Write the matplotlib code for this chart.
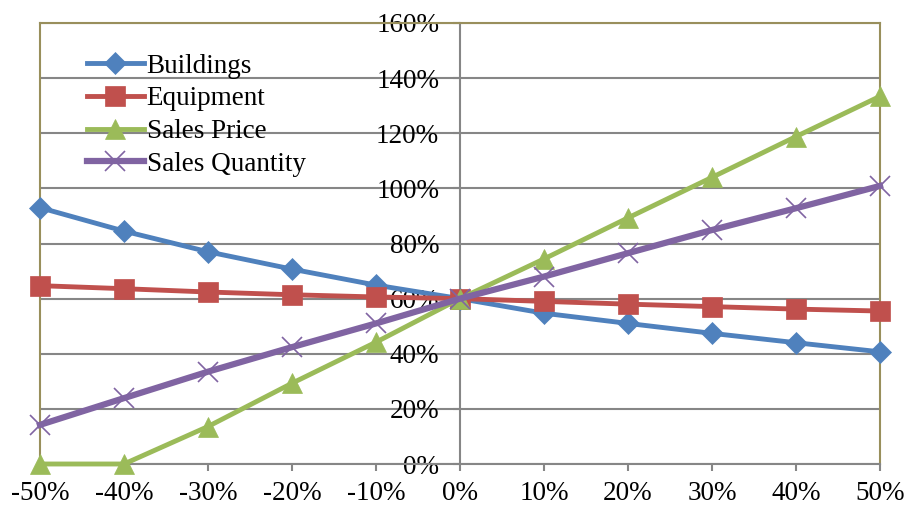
import numpy as np
import matplotlib.pyplot as plt
from matplotlib.ticker import FuncFormatter

plt.rcParams['font.family'] = ['Liberation Serif', 'DejaVu Serif']

# change in input (x) and result as share (y)
changes = [-0.5, -0.4, -0.3, -0.2, -0.1, 0.0, 0.1, 0.2, 0.3, 0.4, 0.5]
buildings = [0.93, 0.845, 0.77, 0.707, 0.649, 0.60, 0.547, 0.51, 0.474, 0.44, 0.407]
equipment = [0.647, 0.636, 0.624, 0.614, 0.606, 0.60, 0.59, 0.58, 0.571, 0.562, 0.555]
sales_price = [0.0, 0.0, 0.136, 0.293, 0.442, 0.60, 0.744, 0.893, 1.04, 1.188, 1.334]
sales_qty = [0.142, 0.239, 0.335, 0.424, 0.51, 0.60, 0.68, 0.765, 0.849, 0.928, 1.009]

series = [
    ("Buildings", buildings, "#4F81BD", "D", 11, 3.5),
    ("Equipment", equipment, "#C0504D", "s", 14, 3.5),
    ("Sales Price", sales_price, "#9BBB59", "^", 14, 3.5),
    ("Sales Quantity", sales_qty, "#8064A2", "x", 14, 4.5),
]

fig = plt.figure(figsize=(9.06, 5.07), dpi=100)
ax = fig.add_axes([40 / 906, 1 - 464 / 507, 840 / 906, 441 / 507])

for name, vals, col, mk, ms, lw in series:
    ax.plot(changes, vals, color=col, lw=lw, marker=mk, markersize=ms,
            markeredgewidth=1.2 if mk == "x" else 0.5, markeredgecolor=col,
            label=name, clip_on=False, zorder=3)

ax.set_xlim(-0.5, 0.5)
ax.set_ylim(0, 1.6)
ax.set_xticks(changes)
ax.set_yticks(np.arange(0, 1.61, 0.2))
pct = FuncFormatter(lambda v, p: f"{v:.0%}")
ax.xaxis.set_major_formatter(pct)
ax.yaxis.set_major_formatter(pct)

grey = "#868686"
frame = "#998f5c"
ax.grid(axis="y", color=grey, lw=1.5, zorder=1)
ax.tick_params(axis="both", direction="out", length=5, width=1.5, color=grey,
               labelsize=19.5)
ax.tick_params(axis="x", pad=7)
ax.tick_params(axis="y", pad=10)

# value axis crosses at 0%
ax.spines["left"].set_position(("data", 0))
ax.spines["left"].set_color(grey)
ax.spines["left"].set_linewidth(1.5)
ax.spines["bottom"].set_color(grey)
ax.spines["bottom"].set_linewidth(1.5)
for side in ["top", "right"]:
    ax.spines[side].set_color(frame)
    ax.spines[side].set_linewidth(1.5)
# left edge of plot area border
ax.axvline(ax.get_xlim()[0], color=frame, lw=1.5, zorder=2, clip_on=False)

ax.legend(loc="upper left", bbox_to_anchor=(0.056, 0.93), frameon=False,
          fontsize=19.5, handlelength=2.1, handletextpad=0.1, labelspacing=0.28,
          borderpad=0, borderaxespad=0)

fig.savefig("out.png", dpi=100)
